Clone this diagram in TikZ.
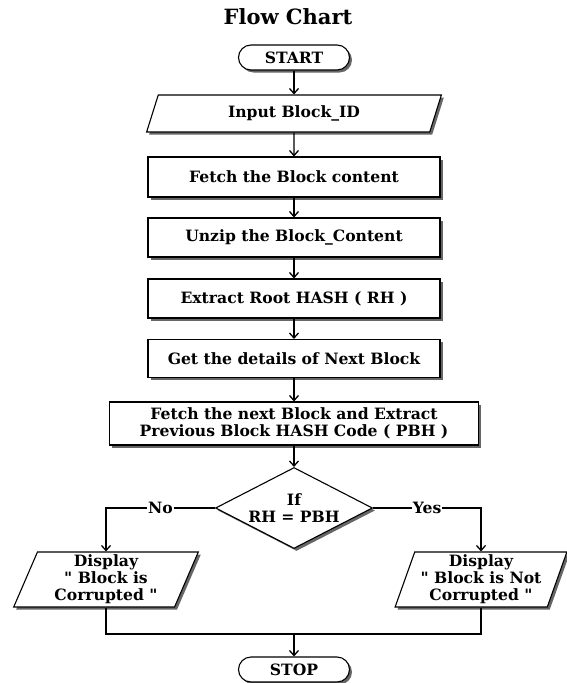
\documentclass[tikz,border=0pt]{standalone}
\usepackage{fontspec}
\setmainfont{DejaVu Serif}[Ligatures=TeXOff]
\usetikzlibrary{shapes.geometric,shadows,arrows.meta}
\begin{document}
\begin{tikzpicture}[>={Straight Barb[length=5pt,width=9pt,line width=1.3pt]},x=1pt,y=-1pt,line width=1.1pt]
    \tikzstyle{every node}=[font=\fontsize{15.6}{17}\selectfont\bfseries,align=center]
    \tikzstyle{boxshadow}=[drop shadow={shadow xshift=2.5pt,shadow yshift=-2.5pt,fill=black!60,opacity=1}]
    \tikzstyle{terminal}=[draw,fill=white,boxshadow,rounded corners=12.5pt,minimum width=111pt,minimum height=25pt,inner sep=0pt]
    \tikzstyle{process}=[draw,fill=white,boxshadow,rectangle,minimum width=292pt,minimum height=40pt,inner sep=0pt]
    \tikzstyle{inout}=[draw,fill=white,boxshadow,trapezium,trapezium left angle=70,trapezium right angle=110,trapezium stretches=true,inner sep=0pt]
    \tikzstyle{decision}=[draw,fill=white,boxshadow,diamond,aspect=2,minimum width=157pt,minimum height=81pt,inner sep=0pt]
    \tikzstyle{answer}=[fill=white,inner sep=1pt]
    \useasboundingbox (0,0) rectangle (567,683);
    \node[font=\fontsize{21}{24}\selectfont\bfseries] (title) at (288,17) {Flow Chart};
    \node[terminal] (start) at (294,57.5) {START};
    \node[inout,minimum width=295pt,minimum height=37pt] (input) at (294,113.5) {Input Block\_ID};
    \node[process] (fetch) at (294,177) {Fetch the Block content};
    \node[process,minimum height=39pt] (unzip) at (294,237.5) {Unzip the Block\_Content};
    \node[process,minimum height=39pt] (root) at (294,298.5) {Extract Root HASH ( RH )};
    \node[process,minimum height=38pt] (next) at (294,358.5) {Get the details of Next Block};
    \node[process,minimum width=369pt,minimum height=43pt] (pbh) at (294,423.5) {Fetch the next Block and Extract\\Previous Block HASH Code ( PBH )};
    \node[decision] (check) at (294,508) {If\\RH = PBH};
    \node[inout,minimum width=185pt,minimum height=55pt] (bad) at (106,579.5) {Display\\" Block is\\Corrupted "};
    \node[inout,minimum width=172pt,minimum height=55pt] (good) at (481,579.5) {Display\\" Block is Not\\Corrupted "};
    \coordinate (merge) at (294,634);
    \node[terminal] (stop) at (294,669.5) {STOP};
    \draw[->] (start) -- (input);
    \draw[->] (input) -- (fetch);
    \draw[->] (fetch) -- (unzip);
    \draw[->] (unzip) -- (root);
    \draw[->] (root) -- (next);
    \draw[->] (next) -- (pbh);
    \draw[->] (pbh) -- (check);
    \draw[->] (check.west) -| node[answer,pos=0.25] {No} (bad.north);
    \draw[->] (check.east) -| node[answer,pos=0.25] {Yes} (good.north);
    \draw (bad.south) |- (merge) -| (good.south);
    \draw[->] (merge) -- (stop);
\end{tikzpicture}
\end{document}
